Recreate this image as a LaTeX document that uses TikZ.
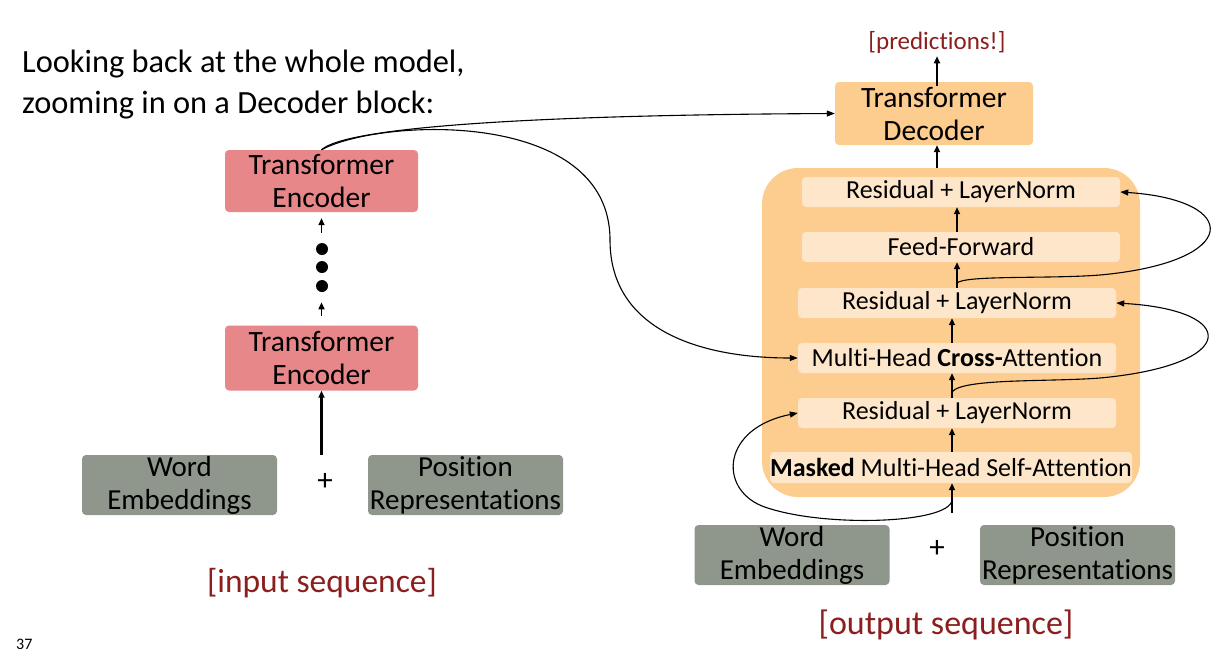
\documentclass[tikz,border=0pt]{standalone}
\usepackage{fontspec}
\setmainfont{Carlito}[Ligatures=NoCommon]
\usetikzlibrary{arrows.meta}
\definecolor{encred}{RGB}{232,135,138}
\definecolor{embgrey}{RGB}{143,150,140}
\definecolor{decor}{RGB}{253,204,143}
\definecolor{innerc}{RGB}{254,230,202}
\definecolor{darkred}{RGB}{140,30,30}
\begin{document}
\begin{tikzpicture}[x=1pt,y=-1pt,
  encbox/.style={fill=encred, rounded corners=4pt, minimum width=193pt, minimum height=62pt, align=center, inner sep=0pt, font=\fontsize{29.5}{33}\selectfont},
  decbox/.style={fill=decor, rounded corners=4pt, minimum width=198pt, minimum height=63pt, align=center, inner sep=0pt, font=\fontsize{29.5}{33}\selectfont},
  embbox/.style={fill=embgrey, rounded corners=4pt, minimum width=195pt, minimum height=60pt, align=center, inner sep=0pt, font=\fontsize{29}{33}\selectfont},
  innerbox/.style={fill=innerc, rounded corners=4pt, minimum width=318pt, minimum height=30pt, inner sep=0pt, font=\fontsize{26}{30}\selectfont},
  redtext/.style={text=darkred, inner sep=0pt},
  arr/.style={-{Triangle[length=7pt,width=6pt]}, line width=1.6pt},
  curve/.style={-{Triangle[length=8pt,width=6pt]}, line width=1.1pt},
  dotc/.style={circle, fill=black, minimum size=12pt, inner sep=0pt},
  plussign/.style={inner sep=0pt, font=\fontsize{31}{31}\selectfont}
]
\useasboundingbox (0,0) rectangle (1230,654);
% title
\node[anchor=base west, inner sep=0pt, font=\fontsize{32.4}{36}\selectfont] (t1) at (22,72) {Looking back at the whole model,};
\node[anchor=base west, inner sep=0pt, font=\fontsize{32.4}{36}\selectfont] (t2) at (22,113) {zooming in on a Decoder block:};
\node[anchor=base west, inner sep=0pt, font=\fontsize{16}{16}\selectfont] (pg) at (16,649) {37};

% encoder side
\node[encbox] (enc2) at (321.5,181) {Transformer\\Encoder};
\node[encbox, minimum height=65pt] (enc1) at (321.5,358) {Transformer\\Encoder};
\node[dotc] (d1) at (322,249) {};
\node[dotc] (d2) at (322,267) {};
\node[dotc] (d3) at (322,286) {};
\draw[arr] ([yshift=-21pt]enc2.south) -- ([yshift=-6pt]enc2.south);
\draw[arr] ([yshift=9pt]enc1.north) -- ([yshift=23pt]enc1.north);
\node[embbox] (we1) at (179.5,485) {Word\\Embeddings};
\node[plussign] (plus1) at (325,482) {+};
\node[embbox] (pr1) at (465.5,485) {Position\\Representations};
\draw[arr, line width=2.2pt] (enc1.south |- we1.north) -- (enc1.south);
\node[redtext, font=\fontsize{33.5}{36}\selectfont] (ins) at (322,583) {[input sequence]};

% decoder side
\node[redtext, font=\fontsize{25}{28}\selectfont] (pred) at (937,42) {[predictions!]};
\node[decbox] (dec) at (934,113.5) {Transformer\\Decoder};
\draw[arr] ([yshift=-4pt]pred.south |- dec.north) -- ([yshift=-3pt]pred.south);
\node[fill=decor, rounded corners=36pt, minimum width=378pt, minimum height=329pt, inner sep=0pt] (block) at (951,332.5) {};
\draw[arr] (pred.south |- block.north) -- (pred.south |- dec.south);

\node[innerbox] (rn3) at (961,192) {Residual + LayerNorm};
\node[innerbox] (ff) at (961,247) {Feed-Forward};
\node[innerbox] (rn2) at (957,303) {Residual + LayerNorm};
\node[innerbox] (cross) at (957,358) {Multi-Head \textbf{Cross-}Attention};
\node[innerbox] (rn1) at (957,413) {Residual + LayerNorm};
\node[innerbox, minimum width=362pt, minimum height=31pt] (masked) at (951,467.5) {\textbf{Masked} Multi-Head Self-Attention};

\coordinate (colA) at (952,0);
\coordinate (colB) at (957,0);
\draw[arr] (colA |- masked.north) -- (colA |- rn1.south);
\draw[arr] (colA |- rn1.north) -- (colA |- cross.south);
\draw[arr] (colA |- cross.north) -- (colA |- rn2.south);
\draw[arr] (colB |- rn2.north) -- (colB |- ff.south);
\draw[arr] (colB |- ff.north) -- (colB |- rn3.south);

\node[embbox] (we2) at (792,555) {Word\\Embeddings};
\node[plussign] (plus2) at (937,549) {+};
\node[embbox] (pr2) at (1077.5,555) {Position\\Representations};
\coordinate (inB) at (952,513);
\draw[arr] (inB) -- (colA |- masked.south);
\node[redtext, font=\fontsize{34}{36}\selectfont] (outs) at (946,625) {[output sequence]};

% residual connections
\coordinate (s1) at (952,500);
\coordinate (s2) at (952,392);
\coordinate (s3) at (957,283);
\draw[curve] (s1) .. controls (950,524) and (820,528) .. (762,506)
  .. controls (718,488) and (722,428) .. (rn1.west);
\draw[curve] (s2) .. controls (962,378) and (1050,382) .. (1100,378)
  .. controls (1240,365) and (1240,310) .. (rn2.east);
\draw[curve] (s3) .. controls (965,275) and (1050,279) .. (1100,275)
  .. controls (1242,262) and (1242,200) .. (rn3.east);

% encoder to decoder
\coordinate (mid) at (610,240);
\draw[curve] (enc2.north) .. controls (345,128) and (520,115) .. (dec.west);
\draw[curve] (enc2.north) .. controls (380,118) and (610,108) .. (mid)
  .. controls (610,330) and (700,358) .. (cross.west);
\end{tikzpicture}
\end{document}
